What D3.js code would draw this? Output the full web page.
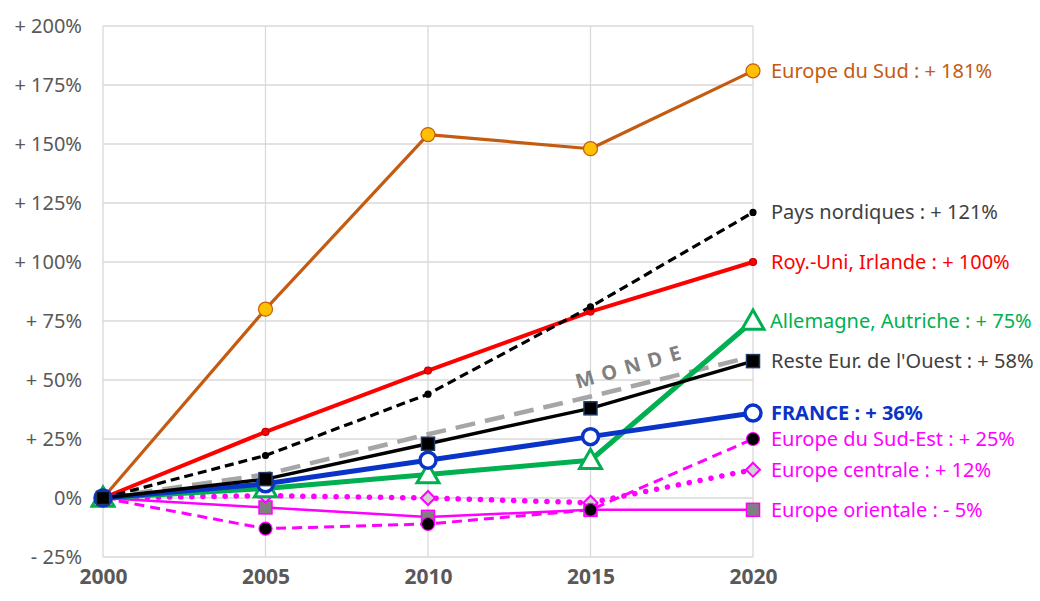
<!DOCTYPE html>
<html>
<head>
<meta charset="utf-8">
<script src="https://cdn.jsdelivr.net/npm/d3@7"></script>
<style>
  body { margin: 0; background: #fff; }
  svg { font-family: "Noto Sans", "Open Sans", sans-serif; }
</style>
</head>
<body>
<svg id="chart" width="1040" height="601"></svg>
<script>
const years = [2000, 2005, 2010, 2015, 2020];
const yTicks = [-25, 0, 25, 50, 75, 100, 125, 150, 175, 200];

const europeSud = [0, 80, 154, 148, 181];
const paysNordiques = [0, 18, 44, 81, 121];
const royUni = [0, 28, 54, 79, 100];
const allemagne = [0, 4, 10, 16, 75];
const resteOuest = [0, 8, 23, 38, 58];
const france = [0, 6, 16, 26, 36];
const monde = [0, 10, 27, 43, 60];
const sudEst = [0, -13, -11, -5, 25];
const centrale = [0, 1, 0, -2, 12];
const orientale = [0, -4, -8, -5, -5];

const series = [
  { name: "Monde", values: monde, color: "#a6a6a6", width: 4.5, dash: "20,10" },
  { name: "Europe orientale : - 5%", values: orientale, color: "#ff00ff", width: 2.5, marker: "square", mFill: "#808080", mStroke: "#ff00ff", mSize: 13, label: "#ff00ff" },
  { name: "Europe centrale : + 12%", values: centrale, color: "#ff00ff", width: 5.5, dash: "0.1,11", cap: "round", marker: "diamond", mFill: "#d0d0d0", mStroke: "#ff00ff", mSize: 12, label: "#ff00ff" },
  { name: "Europe du Sud-Est : + 25%", values: sudEst, color: "#ff00ff", width: 3, dash: "10,6", marker: "circle", mFill: "#000", mStroke: "#ff00ff", mSize: 6.5, label: "#ff00ff" },
  { name: "Roy.-Uni, Irlande : + 100%", values: royUni, color: "#ff0000", width: 4, marker: "circle", mFill: "#ff0000", mStroke: "#c00000", mSize: 3.5, label: "#ff0000" },
  { name: "Pays nordiques : + 121%", values: paysNordiques, color: "#000", width: 3.2, dash: "9,5", marker: "circle", mFill: "#000", mStroke: "#000", mSize: 3, label: "#404040" },
  { name: "Europe du Sud : + 181%", values: europeSud, color: "#c55a11", width: 3.2, marker: "circle", mFill: "#ffc000", mStroke: "#c55a11", mSize: 7, label: "#c55a11" },
  { name: "Allemagne, Autriche : + 75%", values: allemagne, color: "#00b050", width: 5, marker: "triangle", mFill: "#fff", mStroke: "#00b050", mSize: 11, label: "#00b050" },
  { name: "FRANCE : + 36%", values: france, color: "#0a34c8", width: 5, marker: "circle", mFill: "#fff", mStroke: "#0a34c8", mSize: 8, label: "#0a34c8", bold: true },
  { name: "Reste Eur. de l'Ouest : + 58%", values: resteOuest, color: "#000", width: 3.4, marker: "square", mFill: "#000", mStroke: "#1f3864", mSize: 13, label: "#404040" }
];

const svg = d3.select("#chart");
const x = d3.scaleLinear().domain([2000, 2020]).range([103, 753]);
const y = d3.scaleLinear().domain([-25, 200]).range([557, 26]);

// grid
svg.append("g").selectAll("line").data(yTicks).join("line")
  .attr("x1", x(2000)).attr("x2", x(2020))
  .attr("y1", d => y(d)).attr("y2", d => y(d))
  .attr("stroke", "#d9d9d9").attr("stroke-width", 1.3);
svg.append("g").selectAll("line").data(years).join("line")
  .attr("x1", d => x(d)).attr("x2", d => x(d))
  .attr("y1", y(-25)).attr("y2", y(200))
  .attr("stroke", "#d9d9d9").attr("stroke-width", 1.3);

// y labels
const yAxis = d3.axisLeft(y).tickValues(yTicks).tickSize(0).tickPadding(21)
  .tickFormat(d => d === 0 ? "0%" : (d > 0 ? "+ " : "- ") + Math.abs(d) + "%");
const ya = svg.append("g").attr("transform", `translate(${x(2000)},0)`).call(yAxis);
ya.select(".domain").remove();
ya.selectAll("text").attr("fill", "#595959").style("font-size", "20px")
  .style("font-family", "'Noto Sans', sans-serif");

// x labels
const xAxis = d3.axisBottom(x).tickValues(years).tickSize(0).tickPadding(12).tickFormat(d3.format("d"));
const xa = svg.append("g").attr("transform", `translate(0,${y(-25)})`).call(xAxis);
xa.select(".domain").remove();
xa.selectAll("text").attr("fill", "#595959").style("font-size", "21px").style("font-weight", "bold")
  .style("font-family", "'Noto Sans', sans-serif");

const line = d3.line().x((d, i) => x(years[i])).y(d => y(d));

series.forEach(s => {
  svg.append("path").datum(s.values)
    .attr("d", line)
    .attr("fill", "none")
    .attr("stroke", s.color)
    .attr("stroke-width", s.width)
    .attr("stroke-dasharray", s.dash || null)
    .attr("stroke-linecap", s.cap || "butt")
    .attr("stroke-linejoin", "round");
});

function drawMarkers(s) {
  const g = svg.append("g");
  const pts = s.values.map((v, i) => [x(years[i]), y(v)]);
  const m = s.mSize;
  if (s.marker === "circle") {
    g.selectAll("circle").data(pts).join("circle")
      .attr("cx", d => d[0]).attr("cy", d => d[1]).attr("r", m)
      .attr("fill", s.mFill).attr("stroke", s.mStroke)
      .attr("stroke-width", s.name.startsWith("FRANCE") ? 3.5 : 1.2);
  } else if (s.marker === "square") {
    g.selectAll("rect").data(pts).join("rect")
      .attr("x", d => d[0] - m / 2).attr("y", d => d[1] - m / 2)
      .attr("width", m).attr("height", m)
      .attr("fill", s.mFill).attr("stroke", s.mStroke).attr("stroke-width", 1.5);
  } else if (s.marker === "diamond") {
    g.selectAll("path").data(pts).join("path")
      .attr("d", d => `M${d[0]},${d[1] - m / 2 - 1}L${d[0] + m / 2 + 1},${d[1]}L${d[0]},${d[1] + m / 2 + 1}L${d[0] - m / 2 - 1},${d[1]}Z`)
      .attr("fill", s.mFill).attr("stroke", s.mStroke).attr("stroke-width", 2);
  } else if (s.marker === "triangle") {
    g.selectAll("path").data(pts).join("path")
      .attr("d", d => `M${d[0]},${d[1] - m}L${d[0] + m},${d[1] + m * 0.75}L${d[0] - m},${d[1] + m * 0.75}Z`)
      .attr("fill", s.mFill).attr("stroke", s.mStroke).attr("stroke-width", 3)
      .attr("stroke-linejoin", "miter");
  }
}

// markers drawn in series order after all lines
series.filter(s => s.marker).forEach(drawMarkers);

// end labels
series.filter(s => s.label).forEach(s => {
  const last = s.values[s.values.length - 1];
  svg.append("text")
    .attr("x", x(2020) + (s.marker === "triangle" ? 17 : 18))
    .attr("y", y(last))
    .attr("dy", "0.35em")
    .attr("fill", s.label)
    .style("font-size", "20px")
    .style("font-weight", s.bold ? "bold" : "normal")
    .text(s.name);
});

// MONDE annotation
svg.append("text")
  .attr("transform", `translate(632,366) rotate(-16)`)
  .attr("text-anchor", "middle")
  .attr("dy", "0.35em")
  .attr("fill", "#808080")
  .style("font-size", "20px")
  .style("font-weight", "bold")
  .style("letter-spacing", "8px")
  .text("MONDE");
</script>
</body>
</html>
